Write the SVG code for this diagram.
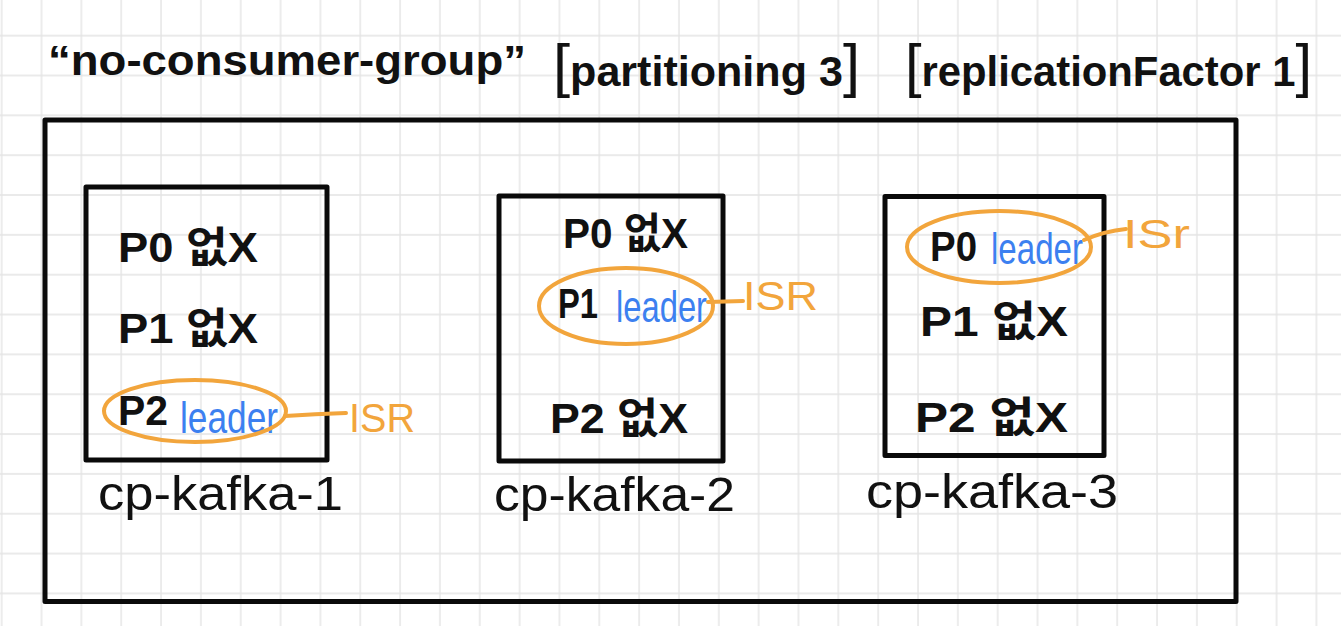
<svg xmlns="http://www.w3.org/2000/svg" width="1341" height="626" viewBox="0 0 1341 626">
  <defs>
    <pattern id="grid" patternUnits="userSpaceOnUse" x="-8.3" y="25.7" width="39.84" height="39.84">
      <path d="M0 10 H39.84 M10 0 V39.84" stroke="#e4e4e4" stroke-width="1.4" fill="none"/>
    </pattern>
  </defs>
  <style>
    .t { font-family: "Liberation Sans", "Noto Sans CJK KR", sans-serif; font-weight: bold; fill: #111; }
    .title { font-size: 42px; }
    .br { font-size: 60px; font-weight: normal; }
    .row { font-size: 42px; }
    .lbl { font-size: 48px; font-weight: normal; }
    .blue { fill: #3c80f0; font-size: 44px; font-weight: normal; }
    .isr { font-size: 40px; fill: #f2a53c; font-weight: normal; }
    .box { fill: none; stroke: #0a0a0a; stroke-width: 5; stroke-linejoin: round; }
    .ring { fill: none; stroke: #f2a53c; stroke-width: 4; }
    .tie { fill: none; stroke: #f2a53c; stroke-width: 4; stroke-linecap: round; }
  </style>
  <rect x="0" y="0" width="1341" height="626" fill="#ffffff"/>
  <rect x="0" y="0" width="1341" height="626" fill="url(#grid)"/>

  <g id="title">
    <text class="t title" x="48" y="75" textLength="478" lengthAdjust="spacingAndGlyphs">“no-consumer-group”</text>
    <text class="t title" x="553" y="86" textLength="307" lengthAdjust="spacingAndGlyphs"><tspan class="br">[</tspan>partitioning 3<tspan class="br">]</tspan></text>
    <text class="t title" x="905" y="86" textLength="407" lengthAdjust="spacingAndGlyphs"><tspan class="br">[</tspan>replicationFactor 1<tspan class="br">]</tspan></text>
  </g>

  <g id="cluster">
    <rect class="box" x="45" y="120" width="1191" height="481.5"/>
  </g>

  <g id="cp-kafka-1">
    <rect class="box" x="86" y="187" width="241" height="273"/>
    <text class="t row" x="118" y="262" textLength="140" lengthAdjust="spacingAndGlyphs">P0 없X</text>
    <text class="t row" x="118" y="343" textLength="140" lengthAdjust="spacingAndGlyphs">P1 없X</text>
    <text class="t row" x="118" y="425" textLength="50" lengthAdjust="spacingAndGlyphs">P2</text>
    <text class="t blue" x="180" y="433" textLength="98" lengthAdjust="spacingAndGlyphs">leader</text>
    <text class="t lbl" x="98" y="510" textLength="245" lengthAdjust="spacingAndGlyphs">cp-kafka-1</text>
  </g>

  <g id="cp-kafka-2">
    <rect class="box" x="499" y="196" width="224" height="265"/>
    <text class="t row" x="563" y="248" textLength="125" lengthAdjust="spacingAndGlyphs">P0 없X</text>
    <text class="t row" x="558" y="318" textLength="40" lengthAdjust="spacingAndGlyphs">P1</text>
    <text class="t blue" x="616" y="322" textLength="91" lengthAdjust="spacingAndGlyphs">leader</text>
    <text class="t row" x="550" y="433" textLength="138" lengthAdjust="spacingAndGlyphs">P2 없X</text>
    <text class="t lbl" x="494" y="511" textLength="241" lengthAdjust="spacingAndGlyphs">cp-kafka-2</text>
  </g>

  <g id="cp-kafka-3">
    <rect class="box" x="885" y="196.5" width="219" height="259"/>
    <text class="t row" x="930" y="261" textLength="47" lengthAdjust="spacingAndGlyphs">P0</text>
    <text class="t blue" x="991" y="264" textLength="92" lengthAdjust="spacingAndGlyphs">leader</text>
    <text class="t row" x="920" y="336" textLength="148" lengthAdjust="spacingAndGlyphs">P1 없X</text>
    <text class="t row" x="915" y="432" textLength="153" lengthAdjust="spacingAndGlyphs">P2 없X</text>
    <text class="t lbl" x="866" y="508" textLength="252" lengthAdjust="spacingAndGlyphs">cp-kafka-3</text>
  </g>

  <g id="isr-1">
    <ellipse class="ring" cx="195" cy="411" rx="91" ry="31"/>
    <text class="t isr" x="349" y="432" textLength="66" lengthAdjust="spacingAndGlyphs">ISR</text>
  </g>
  <g id="isr-2">
    <ellipse class="ring" cx="626" cy="306" rx="87" ry="38"/>
    <text class="t isr" x="743" y="310" textLength="75" lengthAdjust="spacingAndGlyphs">ISR</text>
  </g>
  <g id="isr-3">
    <ellipse class="ring" cx="999" cy="247" rx="92" ry="36"/>
    <text class="t isr" x="1123" y="248" textLength="67" lengthAdjust="spacingAndGlyphs">ISr</text>
  </g>

  <g id="connectors">
    <path class="tie" d="M285 416 Q315 414 346 413"/>
    <path class="tie" d="M708 302 L743 301"/>
    <path class="tie" d="M1084 240 Q1105 231 1126 229"/>
  </g>
</svg>
